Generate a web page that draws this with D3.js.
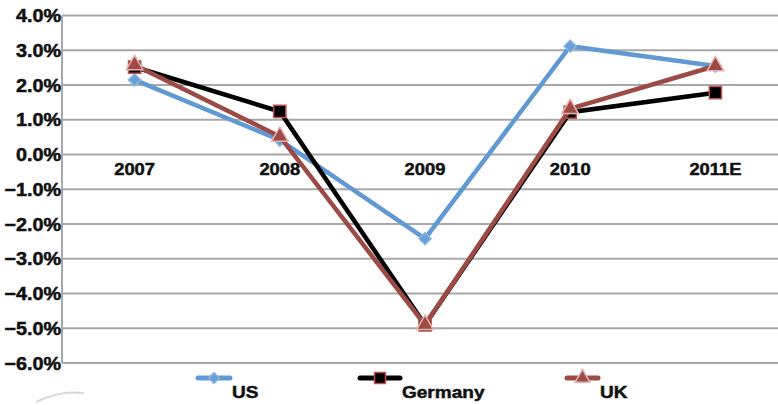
<!DOCTYPE html>
<html><head><meta charset="utf-8">
<script src="https://cdn.jsdelivr.net/npm/d3@7"></script>
<style>html,body{margin:0;padding:0;background:#fff;}svg{display:block;}</style>
</head><body>
<svg id="c" width="778" height="405"></svg>
<script>
const categories = ["2007","2008","2009","2010","2011E"];
const seriesNames = ["US","Germany","UK"];
const usValues = [2.15, 0.42, -2.42, 3.12, 2.55];
const germanyValues = [2.52, 1.24, -4.9, 1.22, 1.78];
const ukValues = [2.58, 0.52, -4.9, 1.32, 2.55];
const yTicks = [4,3,2,1,0,-1,-2,-3,-4,-5,-6];

(function(){
const svg = d3.select("#c");
const plotLeft = 62, plotTop = 15.6, plotBottom = 363, step = 145.2;
const x = d3.scaleBand().domain(categories).range([plotLeft, plotLeft + step*categories.length]).padding(0);
const y = d3.scaleLinear().domain([-6, 4]).range([plotBottom, plotTop]);
const cx = c => x(c) + x.bandwidth()/2;
const font = "Liberation Sans, Arial, sans-serif";

svg.append("g").selectAll("line").data(yTicks).join("line")
  .attr("x1", plotLeft).attr("x2", 778)
  .attr("y1", d => y(d)).attr("y2", d => y(d))
  .attr("stroke", "#a8a8a8").attr("stroke-width", 2);
svg.append("line").attr("x1", plotLeft).attr("x2", plotLeft).attr("y1", y(4)).attr("y2", y(-6))
  .attr("stroke", "#a8a8a8").attr("stroke-width", 2);

svg.append("g").selectAll("text").data(yTicks).join("text")
  .attr("transform", d => `translate(61,${y(d)+6.5}) scale(1.1,1)`)
  .attr("text-anchor", "end")
  .attr("font-family", font)
  .attr("font-weight", "bold").attr("font-size", 18).attr("fill", "#111")
  .attr("stroke", "#111").attr("stroke-width", 0.5)
  .text(d => d3.format(".1f")(d) + "%");

svg.append("g").selectAll("text").data(categories).join("text")
  .attr("transform", d => `translate(${cx(d)},${y(0)+20}) scale(1.08,1)`)
  .attr("text-anchor", "middle")
  .attr("font-family", font)
  .attr("font-weight", "bold").attr("font-size", 17).attr("fill", "#111")
  .attr("stroke", "#111").attr("stroke-width", 0.5)
  .text(d => d);

const series = [
  {name: seriesNames[0], values: usValues, color: "#6199d3", fill: "#6a9fd8", stroke: "#8ab6e4", shape: d3.symbolSquare, rot: 45, size: 75},
  {name: seriesNames[1], values: germanyValues, color: "#000000", fill: "#000000", stroke: "#c0504d", shape: d3.symbolSquare, rot: 0, size: 150},
  {name: seriesNames[2], values: ukValues, color: "#9c4a46", fill: "#9c4a46", stroke: "#e6b2ae", shape: d3.symbolTriangle, rot: 0, size: 120}
];

const line = d3.line().x((d,i) => cx(categories[i])).y(d => y(d));
series.forEach(s => {
  const g = svg.append("g");
  g.append("path").datum(s.values).attr("d", line)
    .attr("fill", "none").attr("stroke", s.color).attr("stroke-width", 4.5)
    .attr("stroke-linejoin", "miter");
  g.selectAll("path.m").data(s.values).join("path").attr("class","m")
    .attr("transform", (d,i) => `translate(${cx(categories[i])},${y(d)}) rotate(${s.rot})`)
    .attr("d", d3.symbol().type(s.shape).size(s.size))
    .attr("fill", s.fill).attr("stroke", s.stroke).attr("stroke-width", 1.5);
});

const legendX = [198, 360, 567];
const legendW = [32, 40, 31];
series.forEach((s, i) => {
  const g = svg.append("g");
  const x0 = legendX[i], x1 = x0 + legendW[i], ly = 378;
  g.append("line").attr("x1", x0).attr("x2", x1).attr("y1", ly).attr("y2", ly)
    .attr("stroke", s.color).attr("stroke-width", 5).attr("stroke-linecap", "round");
  g.append("path").attr("transform", `translate(${(x0+x1)/2},${ly}) rotate(${s.rot})`)
    .attr("d", d3.symbol().type(s.shape).size(s.size*0.8))
    .attr("fill", s.fill).attr("stroke", s.stroke).attr("stroke-width", 1.5);
  g.append("text").attr("transform", `translate(${x1+2},${ly+20}) scale(1.12,1)`)
    .attr("font-family", font)
    .attr("font-weight", "bold").attr("font-size", 17).attr("fill", "#111")
    .attr("stroke", "#111").attr("stroke-width", 0.5)
    .text(s.name);
});

svg.append("path").attr("d", "M36,402 Q60,390 84,393")
  .attr("fill", "none").attr("stroke", "#d8d8d8").attr("stroke-width", 2);
})();
</script>
</body></html>
